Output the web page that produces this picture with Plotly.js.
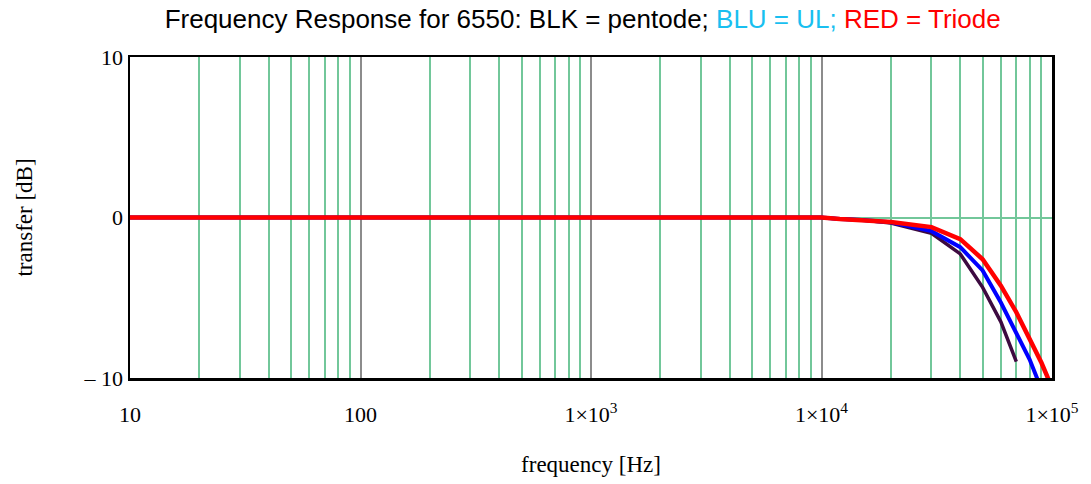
<!DOCTYPE html>
<html>
<head>
<meta charset="utf-8">
<script src="https://cdn.plot.ly/plotly-3.0.1.min.js"></script>
<style>html,body{margin:0;padding:0;background:#fff;}#chart{width:1091px;height:484px;}</style>
</head>
<body>
<div id="chart"></div>
<script>
// Frequencies in Hz
var freqHz = [10, 100, 1000, 10000, 12000, 15000, 20000, 30000, 40000, 50000, 60000, 70000, 80000, 90000, 100000];
// Transfer in dB
var pentodeDb = [0, 0, 0, 0, -0.1, -0.15, -0.35, -0.98, -2.27, -4.35, -6.5, -8.98];
var ulDb      = [0, 0, 0, 0, -0.1, -0.15, -0.3, -0.85, -1.85, -3.3, -5.3, -7.2, -8.85, -10.7];
var triodeDb  = [0, 0, 0, 0, -0.1, -0.15, -0.28, -0.6, -1.35, -2.6, -4.25, -5.9, -7.6, -9.05, -10.6];

var xTickVals = [10, 100, 1000, 10000, 100000];
var xTickText = ["10", "100", "1\u00d710<sup>3</sup>", "1\u00d710<sup>4</sup>", "1\u00d710<sup>5</sup>"];
var yTickVals = [-10, 0, 10];
var yTickText = ["\u2013 10", "0", "10"];
var minorMultipliers = [2, 3, 4, 5, 6, 7, 8, 9];
var decades = [10, 100, 1000, 10000];

var minorVals = [];
decades.forEach(function (d) { minorMultipliers.forEach(function (m) { minorVals.push(d * m); }); });

function series(vals, color, width) {
  return {
    x: freqHz.slice(0, vals.length),
    y: vals,
    mode: 'lines',
    type: 'scatter',
    line: {color: color, width: width},
    hoverinfo: 'x+y'
  };
}

var data = [
  series(pentodeDb, '#3d0a40', 3.5),
  series(ulDb, '#0000ff', 4),
  series(triodeDb, '#ff0000', 4.5)
];

var serif = 'Liberation Serif, Times New Roman, serif';
var layout = {
  width: 1091, height: 484,
  margin: {l: 130, r: 39, t: 57, b: 106},
  paper_bgcolor: '#fff', plot_bgcolor: '#fff',
  showlegend: false,
  title: {
    text: 'Frequency Response for 6550: BLK = pentode; <span style="color:#19bff0">BLU = UL;</span> <span style="color:#ff0000">RED = Triode</span>',
    font: {family: 'Liberation Sans, Arial, sans-serif', size: 26, color: '#000'},
    x: 0.491, xref: 'paper', xanchor: 'center', y: 0.96, yanchor: 'middle', yref: 'container'
  },
  xaxis: {
    type: 'log',
    range: [1, 5],
    tickmode: 'array', tickvals: xTickVals, ticktext: xTickText,
    ticks: 'outside', ticklen: 15, tickcolor: 'rgba(0,0,0,0)',
    tickfont: {family: serif, size: 22, color: '#000'},
    showgrid: true, gridcolor: '#8c8c8c', gridwidth: 2,
    minor: {tickmode: 'array', tickvals: minorVals, showgrid: true, gridcolor: '#72c79a', gridwidth: 2, ticks: ''},
    showline: true, linecolor: '#000', linewidth: 2.5, mirror: true,
    zeroline: false,
    title: {text: 'frequency [Hz]', font: {family: serif, size: 23, color: '#000'}, standoff: 30}
  },
  yaxis: {
    range: [-10, 10],
    tickmode: 'array', tickvals: yTickVals, ticktext: yTickText,
    ticks: '',
    tickfont: {family: serif, size: 22, color: '#000'},
    showgrid: true, gridcolor: '#72c79a', gridwidth: 2,
    showline: true, linecolor: '#000', linewidth: 2.5, mirror: true,
    zeroline: false,
    title: {text: 'transfer [dB]', font: {family: serif, size: 23, color: '#000'}, standoff: 45}
  }
};

Plotly.newPlot('chart', data, layout, {displayModeBar: false, staticPlot: true});
</script>
</body>
</html>
